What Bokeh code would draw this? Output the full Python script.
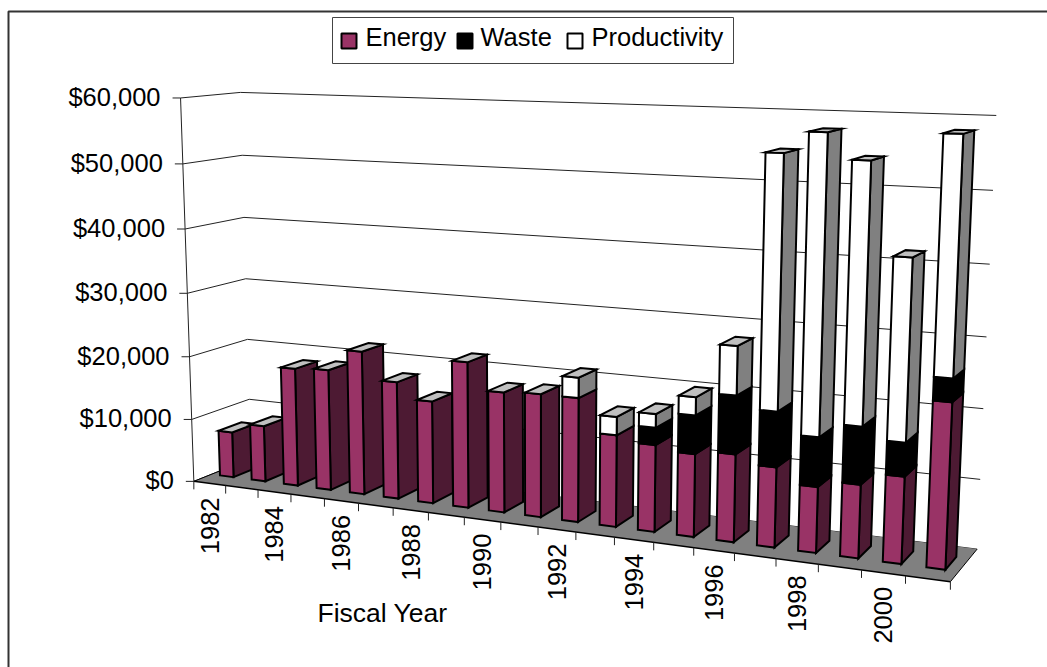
import numpy as np
from bokeh.plotting import figure
from bokeh.models import ColumnDataSource, Range1d
from bokeh.core.properties import value
from bokeh.embed import file_html
from bokeh.resources import INLINE

years = list(range(1982, 2002))
energy = [7300, 8900, 18600, 18900, 22300, 18100, 15700, 22200, 18200, 18500,
          18500, 13600, 12800, 12100, 12700, 11500, 9400, 10400, 12200, 23000]
waste = [0, 0, 0, 0, 0, 0, 0, 0, 0, 0,
         0, 0, 2500, 5600, 8400, 7900, 7000, 8100, 4700, 3200]
productivity = [0, 0, 0, 0, 0, 0, 0, 0, 0, 0,
                3000, 2700, 2000, 2600, 7000, 35500, 41500, 35900, 25000, 32100]
y_ticks = [0, 10000, 20000, 30000, 40000, 50000, 60000]
y_labels = ["$0", "$10,000", "$20,000", "$30,000", "$40,000", "$50,000", "$60,000"]
x_labels = {1982: "1982", 1984: "1984", 1986: "1986", 1988: "1988", 1990: "1990",
            1992: "1992", 1994: "1994", 1996: "1996", 1998: "1998", 2000: "2000"}
series_names = ["Energy", "Waste", "Productivity"]
axis_title = "Fiscal Year"

# perspective camera of the 3-D chart: (category, depth, dollars) -> page position
calib = [
    ((0, 0, 0), (194, 481)), ((0, 0, 30000), (186.5, 292)), ((0, 0, 60000), (180, 97)),
    ((10, 0, 0), (538, 527)), ((20, 0, 0), (949, 582)),
    ((0, 1, 0), (250, 458)), ((0, 1, 30000), (245, 278)), ((0, 1, 60000), (240, 93)),
    ((20, 1, 0), (977, 548)), ((20, 1, 30000), (986, 336)), ((20, 1, 60000), (996, 115)),
]
rows = []
for (u, d, h), (x, y) in calib:
    s = (u / 20, d, h / 60000, 1)
    rows.append([*s, 0, 0, 0, 0, *[-x * c for c in s]])
    rows.append([0, 0, 0, 0, *s, *[-y * c for c in s]])
_, _, vt = np.linalg.svd(np.array(rows, float))
P = vt[-1].reshape(3, 4)


def proj(u, d, h):
    w = P @ np.array([u / 20, d, h / 60000, 1.0])
    return w[0] / w[2], w[1] / w[2]


p = figure(width=1047, height=667, output_backend="svg", toolbar_location=None,
           x_range=Range1d(0, 1047), y_range=Range1d(667, 0),
           x_axis_type=None, y_axis_type=None, min_border=0,
           outline_line_color=None, background_fill_color="white", border_fill_color="white")
p.grid.visible = False
FONT = value("Liberation Sans")
FS = "25.5px"

# chart frame (left and top edges)
p.line([8, 8, 1047], [667, 11, 11], line_color="#333333", line_width=2)

# walls: gridlines and left axis
for tv in y_ticks:
    a, b, c = proj(0, 0, tv), proj(0, 1, tv), proj(20, 1, tv)
    p.line([a[0], b[0], c[0]], [a[1], b[1], c[1]], line_color="#222222", line_width=1)
    p.line([a[0] - 8, a[0]], [a[1], a[1]], line_color="#222222", line_width=1)
a, b = proj(0, 0, 0), proj(0, 0, 60000)
p.line([a[0], b[0]], [a[1], b[1]], line_color="#222222", line_width=1)

# floor
corners = [proj(0, 0, 0), proj(20, 0, 0), proj(20, 1, 0), proj(0, 1, 0)]
p.patch([c[0] for c in corners], [c[1] for c in corners], fill_color="#808080", line_color=None)
for i, j, w in [(0, 1, 1.5), (1, 2, 1), (3, 0, 1)]:
    p.line([corners[i][0], corners[j][0]], [corners[i][1], corners[j][1]], line_color="black", line_width=w)
for i in range(21):
    x, y = proj(i, 0, 0)
    p.line([x, x], [y, y + 8], line_color="#222222", line_width=1)

# bars
U0, U1, D0, D1 = 0.27, 0.70, 0.30, 0.70
front_col = ["#993366", "#000000", "#FFFFFF"]
side_col = ["#4D1A33", "#000000", "#808080"]
xs, ys, fills = [], [], []


def face(pts, col):
    xs.append([q[0] for q in pts])
    ys.append([q[1] for q in pts])
    fills.append(col)


for i in range(len(years)):
    base = 0
    u0, u1 = i + U0, i + U1
    for k, vals in enumerate((energy, waste, productivity)):
        v = vals[i]
        if v == 0:
            continue
        top = base + v
        face([proj(u1, D0, base), proj(u1, D1, base), proj(u1, D1, top), proj(u1, D0, top)], side_col[k])
        face([proj(u0, D0, base), proj(u1, D0, base), proj(u1, D0, top), proj(u0, D0, top)], front_col[k])
        base = top
    face([proj(u0, D0, base), proj(u1, D0, base), proj(u1, D1, base), proj(u0, D1, base)], "#C0C0C0")

src = ColumnDataSource(dict(xs=xs, ys=ys, fill=fills))
p.patches("xs", "ys", source=src, fill_color="fill", line_color="black", line_width=2, line_join="miter")

# axis labels
lx, ly, lt = [], [], []
for tv, t in zip(y_ticks, y_labels):
    x, y = proj(0, 0, tv)
    lx.append(x - 20); ly.append(y - 1); lt.append(t)
p.text(lx, ly, text=lt, text_font=FONT, text_font_size=FS, text_color="black",
       text_align="right", text_baseline="middle")

cx, cy, ct = [], [], []
for i, yr in enumerate(years):
    if yr in x_labels:
        x, y = proj(i + 0.5, 0, 0)
        cx.append(x); cy.append(y + 14); ct.append(x_labels[yr])
p.text(cx, cy, text=ct, text_font=FONT, text_font_size=FS, text_color="black",
       text_align="right", text_baseline="middle", angle=np.pi / 2)

p.text([317], [612], text=[axis_title], text_font=FONT, text_font_size="26.5px", text_color="black",
       text_align="left", text_baseline="middle")

# legend
lg_x = [332, 733, 733, 332]
lg_y = [17, 17, 63, 63]
p.patch(lg_x, lg_y, fill_color="white", line_color="#444444", line_width=1)
sw_x = [341, 457, 567]
tx_x = [365, 480, 591]
for sx, tx, name, col in zip(sw_x, tx_x, series_names, front_col):
    p.patch([sx, sx + 15, sx + 15, sx], [33, 33, 48, 48], fill_color=col, line_color="black", line_width=2)
    p.text([tx], [36], text=[name], text_font=FONT, text_font_size=FS, text_color="black",
           text_align="left", text_baseline="middle")

open("out.html", "w").write(file_html(p, INLINE))
